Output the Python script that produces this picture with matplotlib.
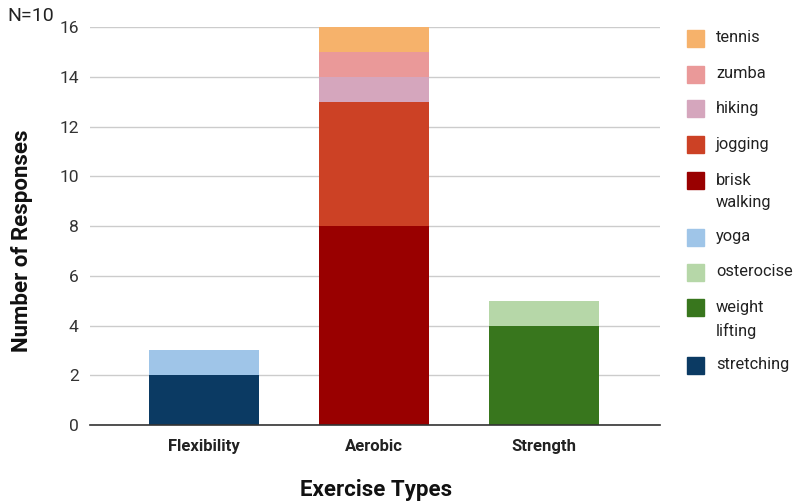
import matplotlib
matplotlib.use("Agg")
import matplotlib.pyplot as plt
from matplotlib.patches import Rectangle

plt.rcParams["font.family"] = ["Roboto", "DejaVu Sans"]

categories = ["Flexibility", "Aerobic", "Strength"]

# stacked segments per category, bottom to top
series_names = ["stretching", "yoga", "brisk walking", "jogging", "hiking",
                "zumba", "tennis", "weight lifting", "osterocise"]
series_cat = [0, 0, 1, 1, 1, 1, 1, 2, 2]
series_values = [2, 1, 8, 5, 1, 1, 1, 4, 1]
series_colors = ["#0b3a63", "#9fc5e8", "#990000", "#cc4125", "#d5a6bd",
                 "#ea9999", "#f6b26b", "#38761d", "#b6d7a8"]

legend_order = ["tennis", "zumba", "hiking", "jogging", "brisk\nwalking",
                "yoga", "osterocise", "weight\nlifting", "stretching"]
legend_keys = ["tennis", "zumba", "hiking", "jogging", "brisk walking",
               "yoga", "osterocise", "weight lifting", "stretching"]

y_ticks = [0, 2, 4, 6, 8, 10, 12, 14, 16]

W, H = 795, 503
fig = plt.figure(figsize=(W / 100, H / 100), dpi=100)
ax = fig.add_axes([0.113, 0.155, 0.717, 0.791])

bottoms = [0.0] * len(categories)
for name, cat, val, col in zip(series_names, series_cat, series_values, series_colors):
    ax.bar(cat, val, width=0.647, bottom=bottoms[cat], color=col,
           edgecolor="none", zorder=3)
    bottoms[cat] += val

ax.set_xlim(-0.673, 2.68)
ax.set_ylim(0, 16)
ax.set_yticks(y_ticks)
ax.set_xticks(range(len(categories)))
ax.set_xticklabels(categories, fontweight="bold", fontsize=12, color="#222222")
ax.tick_params(axis="y", labelsize=12.5, labelcolor="#333333", length=0, pad=8)
ax.tick_params(axis="x", length=0, pad=10)
ax.grid(axis="y", color="#cccccc", linewidth=1, zorder=0)
for s in ["top", "right", "left"]:
    ax.spines[s].set_visible(False)
ax.spines["bottom"].set_color("#333333")
ax.spines["bottom"].set_linewidth(1.2)
ax.spines["bottom"].set_zorder(4)

fig.text(22 / W, 1 - 241 / H, "Number of Responses", fontweight="bold",
         fontsize=16, color="#111111", rotation=90, ha="center", va="center")
fig.text(376 / W, 1 - 490 / H, "Exercise Types", fontweight="bold",
         fontsize=16, color="#111111", ha="center", va="center")

fig.text(0.009, 1 - 16 / H, "N=10", fontsize=14, color="#222222", va="center")

# legend column on the right
color_of = dict(zip(series_names, series_colors))
legend_y_px = [38, 74, 108, 144, 180, 237, 272, 307, 365]
for label, key, ypx in zip(legend_order, legend_keys, legend_y_px):
    fig.patches.append(Rectangle((687 / W, 1 - (ypx + 8.5) / H), 17 / W, 17 / H,
                                 transform=fig.transFigure, color=color_of[key],
                                 figure=fig))
    multi = "\n" in label
    fig.text(716 / W, 1 - (ypx - 7) / H if multi else 1 - ypx / H, label,
             fontsize=11.8, color="#222222",
             va="top" if multi else "center", linespacing=1.6)

fig.savefig("out.png", dpi=100)
